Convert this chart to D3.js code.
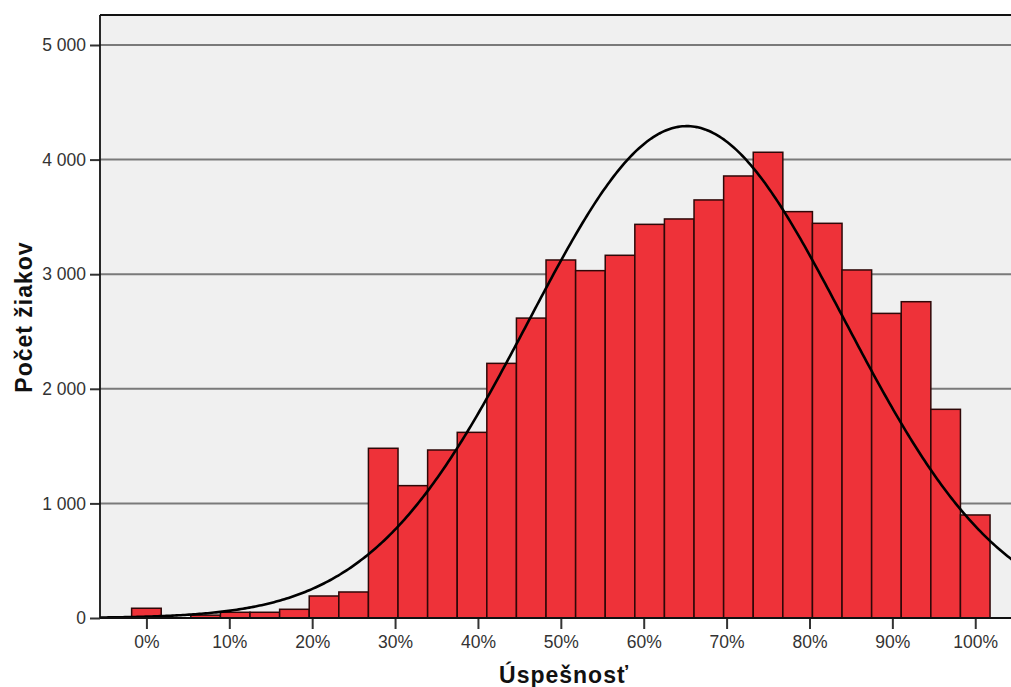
<!DOCTYPE html>
<html><head><meta charset="utf-8">
<script src="https://cdn.jsdelivr.net/npm/d3@7"></script>
<style>body{margin:0;background:#fff}svg{display:block}</style>
</head><body>
<svg id="c" width="1011" height="687"></svg>
<script>
// bin index k -> success k/28 (as %)
const binIndex = d3.range(0, 29);
const counts = [85, 0, 25, 50, 50, 76, 192, 227, 1481, 1155, 1466, 1620, 2222, 2617, 3124, 3031, 3165, 3435, 3482, 3648, 3857, 4064, 3546, 3444, 3037, 2658, 2760, 1821, 899];
const xTicks = [0, 10, 20, 30, 40, 50, 60, 70, 80, 90, 100];
const yTicks = [0, 1000, 2000, 3000, 4000, 5000];
const fitMean = 65.2, fitSD = 19.0;
const binWidth = 100 / 28;

const svg = d3.select('#c');
const L = 100, T = 15, R = 1020, B = 618;
const x = d3.scaleLinear().domain([-5.6, 105.4]).range([L, R]);
const y = d3.scaleLinear().domain([0, 5000]).range([B, 45]);

svg.append('rect').attr('x', L).attr('y', T).attr('width', R - L).attr('height', B - T).attr('fill', '#f0f0f0');

// gridlines
svg.append('g').selectAll('line').data(yTicks.filter(d => d > 0)).join('line')
  .attr('x1', L).attr('x2', R).attr('y1', d => y(d)).attr('y2', d => y(d))
  .attr('stroke', '#7a7a7a').attr('stroke-width', 2);

// bars
const bins = binIndex.map((k, i) => ({c: k * binWidth, v: counts[i]})).filter(d => d.v > 0);
svg.append('g').selectAll('rect').data(bins).join('rect')
  .attr('x', d => x(d.c - binWidth / 2)).attr('width', d => x(d.c + binWidth / 2) - x(d.c - binWidth / 2))
  .attr('y', d => y(d.v)).attr('height', d => B - y(d.v))
  .attr('fill', '#ee3239').attr('stroke', '#2e0808').attr('stroke-width', 1.5);

// normal fit curve
const N = d3.sum(counts);
const pdf = v => N * binWidth / (fitSD * Math.sqrt(2 * Math.PI)) * Math.exp(-0.5 * ((v - fitMean) / fitSD) ** 2);
const xs = d3.range(-5.6, 105.5, 0.25);
svg.append('path').datum(xs)
  .attr('d', d3.line().x(v => x(v)).y(v => y(pdf(v))))
  .attr('fill', 'none').attr('stroke', '#000').attr('stroke-width', 2.6);

// axes
const yAxis = d3.axisLeft(y).tickValues(yTicks).tickSize(10).tickPadding(4)
  .tickFormat(d => d === 0 ? '0' : d3.format(',')(d).replace(/,/g, ' '));
const gy = svg.append('g').attr('transform', `translate(${L},0)`).call(yAxis);
const xAxis = d3.axisBottom(x).tickValues(xTicks).tickSize(11).tickPadding(7).tickFormat(d => d + '%');
const gx = svg.append('g').attr('transform', `translate(0,${B})`).call(xAxis);
[gx, gy].forEach(g => {
  g.select('.domain').remove();
  g.selectAll('.tick line').attr('stroke', '#333').attr('stroke-width', 2);
  g.selectAll('text').attr('font-family', 'Liberation Sans, Arial, sans-serif').attr('font-size', 17.5).attr('fill', '#333');
});

// frame
svg.append('line').attr('x1', L).attr('x2', L).attr('y1', T).attr('y2', B).attr('stroke', '#111').attr('stroke-width', 1.8);
svg.append('line').attr('x1', L).attr('x2', R).attr('y1', T).attr('y2', T).attr('stroke', '#111').attr('stroke-width', 1.8);
svg.append('line').attr('x1', L).attr('x2', R).attr('y1', B).attr('y2', B).attr('stroke', '#111').attr('stroke-width', 1.8);

// titles
svg.append('text').attr('x', 564).attr('y', 683).attr('text-anchor', 'middle')
  .attr('font-family', 'Liberation Sans, Arial, sans-serif').attr('font-weight', 'bold').attr('font-size', 23).attr('letter-spacing', 1).attr('fill', '#111')
  .text('Úspešnosť');
svg.append('text').attr('transform', 'translate(32,317) rotate(-90)').attr('text-anchor', 'middle')
  .attr('font-family', 'Liberation Sans, Arial, sans-serif').attr('font-weight', 'bold').attr('font-size', 23).attr('letter-spacing', 1).attr('fill', '#111')
  .text('Počet žiakov');
</script>
</body></html>
